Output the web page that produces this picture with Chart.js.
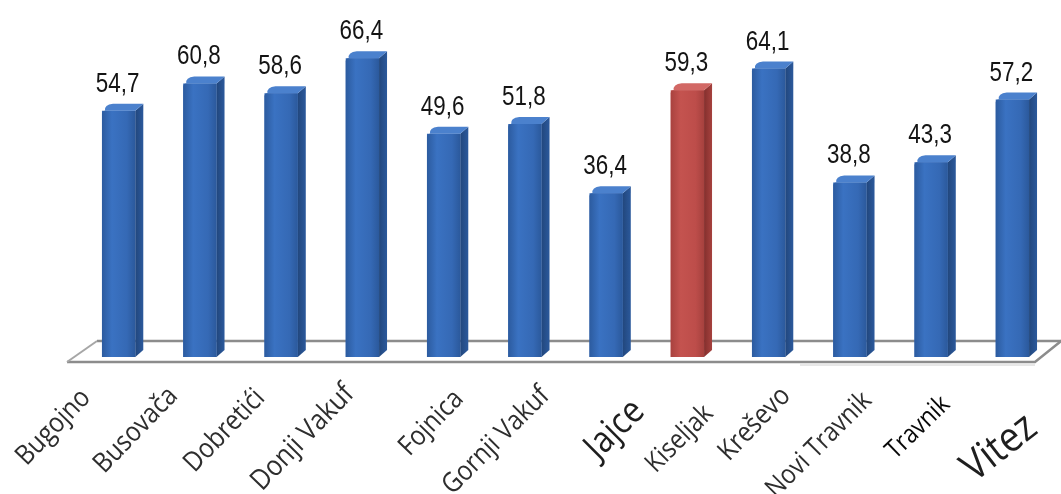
<!DOCTYPE html>
<html>
<head>
<meta charset="utf-8">
<script src="https://cdn.jsdelivr.net/npm/chart.js@4.4.1/dist/chart.umd.min.js"></script>
<style>
  html, body { margin: 0; padding: 0; background: #ffffff; }
  #wrap { width: 1061px; height: 494px; position: relative; }
</style>
</head>
<body>
<div id="wrap"><canvas id="c"></canvas></div>
<script>
// ---- data ----
const categories = ["Bugojno", "Busovača", "Dobretići", "Donji Vakuf", "Fojnica", "Gornji Vakuf",
                    "Jajce", "Kiseljak", "Kreševo", "Novi Travnik", "Travnik", "Vitez"];
const values = [54.7, 60.8, 58.6, 66.4, 49.6, 51.8, 36.4, 59.3, 64.1, 38.8, 43.3, 57.2];
const valueLabels = ["54,7", "60,8", "58,6", "66,4", "49,6", "51,8", "36,4", "59,3", "64,1", "38,8", "43,3", "57,2"];
const highlighted = ["Kiseljak"];

// ---- label styling (layout only) ----
const labelSize  = [25, 25, 25, 26, 25, 25, 33, 24.5, 25, 24.5, 23.5, 38];
const labelColor = ["#2e2e2e","#2e2e2e","#2e2e2e","#2e2e2e","#2e2e2e","#2e2e2e","#1e1e1e","#2e2e2e","#2e2e2e","#2e2e2e","#080808","#1e1e1e"];
const labelDx    = [-27, -21, -15, -7, 21, 26, 40, 27, 23, 23, 20, 27];
const labelDy    = [42, 40, 42, 38, 43, 40, 56, 58, 40, 45, 49, 75];
const labelRot   = [46, 46, 46, 46, 46, 45, 45, 45, 46, 45, 44, 38];

const BLUE = { front: ["#2c5b9f", "#3a72c2", "#3569b5", "#2b599c"], side: "#22477d", top: "#4b81cd" };
const RED  = { front: ["#a9423f", "#c4534f", "#bd4d4a", "#a6413e"], side: "#842f2d", top: "#d26865" };

const depthX = 8, depthY = 7;

function palette(i) { return highlighted.includes(categories[i]) ? RED : BLUE; }

const floorPlugin = {
  id: 'floor',
  beforeDatasetsDraw(chart) {
    const ctx = chart.ctx, a = chart.chartArea;
    const z = chart.scales.y.getPixelForValue(0);
    const fy = z + 5, by = z - 16;
    const fl = a.left - 11, bl = a.left + 19;
    const fr = a.right - 18, br = chart.width + 20;
    ctx.save();
    ctx.lineWidth = 2.5; ctx.strokeStyle = "#8c8c8c";
    ctx.beginPath(); ctx.moveTo(bl, by); ctx.lineTo(br, by); ctx.stroke();
    ctx.beginPath(); ctx.moveTo(fl, fy); ctx.lineTo(fr, fy); ctx.lineTo(fr + 30, fy - 24); ctx.stroke();
    ctx.lineWidth = 2; ctx.strokeStyle = "#a6a6a6";
    ctx.beginPath(); ctx.moveTo(fl, fy); ctx.lineTo(bl, by); ctx.stroke();
    ctx.lineWidth = 1; ctx.strokeStyle = "#d0d0d0";
    ctx.beginPath(); ctx.moveTo(fr - 235, fy + 3); ctx.lineTo(fr, fy + 3); ctx.stroke();
    ctx.restore();
  }
};

const barsPlugin = {
  id: 'bars3d',
  afterDatasetsDraw(chart) {
    const ctx = chart.ctx;
    const meta = chart.getDatasetMeta(0);
    meta.data.forEach((el, i) => {
      const p = el.getProps(['x', 'y', 'base', 'width'], true);
      const hw = p.width / 2, L = p.x - hw, R = p.x + hw, T = p.y, B = p.base;
      const pal = palette(i);
      ctx.save();
      // side face
      const sg = ctx.createLinearGradient(R, 0, R + depthX, 0);
      sg.addColorStop(0, pal.side); sg.addColorStop(1, pal.front[3]);
      ctx.beginPath();
      ctx.moveTo(R, T); ctx.lineTo(R + depthX, T - depthY); ctx.lineTo(R + depthX, B - depthY); ctx.lineTo(R, B); ctx.closePath();
      ctx.fillStyle = sg; ctx.fill();
      // front face gradient
      const g = ctx.createLinearGradient(L, 0, R, 0);
      g.addColorStop(0, pal.front[0]); g.addColorStop(0.3, pal.front[1]);
      g.addColorStop(0.75, pal.front[2]); g.addColorStop(1, pal.front[3]);
      ctx.beginPath();
      const r = 3;
      ctx.moveTo(L, B); ctx.lineTo(L, T + r); ctx.quadraticCurveTo(L, T, L + r, T);
      ctx.lineTo(R, T); ctx.lineTo(R, B); ctx.closePath();
      ctx.fillStyle = g; ctx.fill();
      // top face
      ctx.beginPath();
      ctx.moveTo(L + r, T); ctx.lineTo(R, T); ctx.lineTo(R + depthX, T - depthY);
      ctx.lineTo(L + depthX + 3, T - depthY); ctx.quadraticCurveTo(L + 2, T - depthY + 1, L + r, T);
      ctx.closePath();
      ctx.fillStyle = pal.top; ctx.fill();
      // value label (Arial-like, horizontally condensed)
      ctx.translate(p.x - 1, T - 19);
      ctx.scale(0.8, 1);
      ctx.font = "28px 'Liberation Sans', Arial, sans-serif";
      ctx.fillStyle = "#141414"; ctx.textAlign = "center"; ctx.textBaseline = "alphabetic";
      ctx.fillText(valueLabels[i], 0, 0);
      ctx.restore();
    });
  }
};

const catLabelPlugin = {
  id: 'catLabels',
  afterDraw(chart) {
    const ctx = chart.ctx;
    const xs = chart.scales.x, z = chart.scales.y.getPixelForValue(0);
    categories.forEach((c, i) => {
      const x = xs.getPixelForValue(i) + labelDx[i];
      const y = z + labelDy[i];
      ctx.save();
      ctx.translate(x, y);
      ctx.rotate(-labelRot[i] * Math.PI / 180);
      ctx.scale(0.97, 1.1);
      ctx.font = labelSize[i] + "px 'Open Sans', 'Noto Sans', sans-serif";
      ctx.fillStyle = labelColor[i];
      ctx.textAlign = "right"; ctx.textBaseline = "alphabetic";
      ctx.fillText(c, 0, 0);
      ctx.restore();
    });
  }
};

new Chart(document.getElementById('c'), {
  type: 'bar',
  data: {
    labels: categories,
    datasets: [{
      data: values,
      backgroundColor: values.map((v, i) => palette(i).front[2]),
      borderWidth: 0,
      categoryPercentage: 1.0,
      barPercentage: 0.41
    }]
  },
  options: {
    responsive: true,
    maintainAspectRatio: false,
    animation: false,
    layout: { padding: { left: 78, right: 8, top: 42, bottom: 137 } },
    plugins: { legend: { display: false }, tooltip: { enabled: false } },
    scales: {
      x: { display: false, offset: true },
      y: { display: false, min: 0, max: 70 }
    }
  },
  plugins: [floorPlugin, barsPlugin, catLabelPlugin]
});
</script>
</body>
</html>
